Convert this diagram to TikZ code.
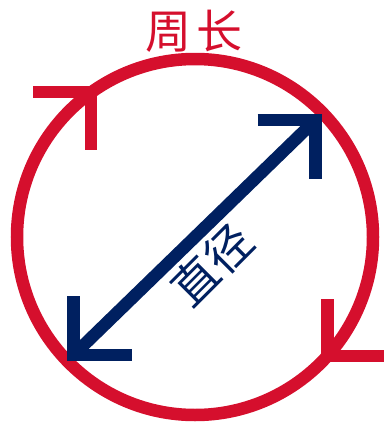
\documentclass[tikz,border=0pt]{standalone}
\usepackage{fontspec}
\newfontfamily\cjk{Noto Sans CJK SC}
\definecolor{zhouchang}{RGB}{213,15,45}
\definecolor{zhijing}{RGB}{0,32,96}

\begin{document}
\begin{tikzpicture}[x=1pt,y=-1pt,line width=12.5pt,miter limit=10,
    round line/.style={draw=zhouchang},
    dia line/.style={draw=zhijing},
    label text/.style={font=\cjk\fontsize{46}{46}\selectfont,inner sep=0pt}]
  \useasboundingbox (0,0) rectangle (383,423);

  \coordinate (centre) at (195,237);
  \coordinate (headA) at (91,92);
  \coordinate (headB) at (327.5,356);
  \coordinate (tipA) at (315.5,120);
  \coordinate (tipB) at (73.5,355);

  % circumference with its two arrowheads
  \draw[round line] (centre) circle[radius=178];
  \draw[round line] (headA) ++(-58,0) -- (headA) -- ++(0,58);
  \draw[round line] (headB) ++(0,-57) -- (headB) -- ++(56,0);

  % diameter
  \draw[dia line] (tipB) -- (tipA);
  \draw[dia line] (tipA) ++(-58,0) -- (tipA) -- ++(0,59);
  \draw[dia line] (tipB) ++(0,-59) -- (tipB) -- ++(58,0);

  \node[label text,text=zhouchang] (perimeter) at (194,31) {周\hspace{5pt}长};
  \node[label text,text=zhijing,rotate=45] (diameter) at (212,265) {直径};
\end{tikzpicture}
\end{document}
